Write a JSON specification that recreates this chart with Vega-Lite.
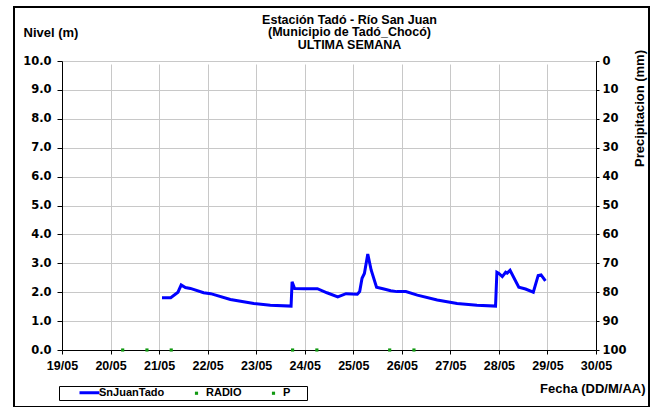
{
  "$schema": "https://vega.github.io/schema/vega-lite/v6.json",
  "width": 635,
  "height": 400,
  "autosize": {"type": "none"},
  "padding": {"left": 14, "top": 7, "right": 4, "bottom": 0},
  "background": "white",
  "datasets": {
    "nivel": [
      {"fecha": "2021-05-21T01:26", "nivel": 1.81},
      {"fecha": "2021-05-21T05:45", "nivel": 1.81},
      {"fecha": "2021-05-21T09:20", "nivel": 2.00},
      {"fecha": "2021-05-21T10:55", "nivel": 2.25},
      {"fecha": "2021-05-21T13:00", "nivel": 2.16},
      {"fecha": "2021-05-21T15:30", "nivel": 2.13},
      {"fecha": "2021-05-21T22:00", "nivel": 1.98},
      {"fecha": "2021-05-22T01:30", "nivel": 1.95},
      {"fecha": "2021-05-22T11:15", "nivel": 1.75},
      {"fecha": "2021-05-22T22:50", "nivel": 1.61},
      {"fecha": "2021-05-23T07:00", "nivel": 1.55},
      {"fecha": "2021-05-23T17:15", "nivel": 1.52},
      {"fecha": "2021-05-23T17:45", "nivel": 2.36},
      {"fecha": "2021-05-23T19:00", "nivel": 2.13},
      {"fecha": "2021-05-23T23:30", "nivel": 2.12},
      {"fecha": "2021-05-24T06:15", "nivel": 2.12},
      {"fecha": "2021-05-24T11:00", "nivel": 1.98},
      {"fecha": "2021-05-24T16:20", "nivel": 1.84},
      {"fecha": "2021-05-24T20:25", "nivel": 1.95},
      {"fecha": "2021-05-25T02:00", "nivel": 1.93},
      {"fecha": "2021-05-25T03:10", "nivel": 2.02},
      {"fecha": "2021-05-25T04:20", "nivel": 2.48},
      {"fecha": "2021-05-25T05:30", "nivel": 2.65},
      {"fecha": "2021-05-25T07:10", "nivel": 3.32},
      {"fecha": "2021-05-25T08:50", "nivel": 2.77},
      {"fecha": "2021-05-25T11:30", "nivel": 2.17},
      {"fecha": "2021-05-25T15:10", "nivel": 2.11},
      {"fecha": "2021-05-25T18:30", "nivel": 2.05},
      {"fecha": "2021-05-25T21:35", "nivel": 2.02},
      {"fecha": "2021-05-26T02:00", "nivel": 2.02},
      {"fecha": "2021-05-26T07:40", "nivel": 1.90},
      {"fecha": "2021-05-26T17:30", "nivel": 1.73},
      {"fecha": "2021-05-27T03:20", "nivel": 1.61},
      {"fecha": "2021-05-27T13:10", "nivel": 1.55},
      {"fecha": "2021-05-27T22:20", "nivel": 1.52},
      {"fecha": "2021-05-27T23:00", "nivel": 2.69},
      {"fecha": "2021-05-28T00:00", "nivel": 2.65},
      {"fecha": "2021-05-28T01:40", "nivel": 2.54},
      {"fecha": "2021-05-28T03:20", "nivel": 2.69},
      {"fecha": "2021-05-28T04:05", "nivel": 2.66},
      {"fecha": "2021-05-28T05:30", "nivel": 2.76},
      {"fecha": "2021-05-28T09:50", "nivel": 2.17},
      {"fecha": "2021-05-28T13:10", "nivel": 2.11},
      {"fecha": "2021-05-28T17:00", "nivel": 2.00},
      {"fecha": "2021-05-28T19:25", "nivel": 2.58},
      {"fecha": "2021-05-28T20:50", "nivel": 2.60},
      {"fecha": "2021-05-28T23:00", "nivel": 2.39}
    ],
    "puntos": [
      {"fecha": "2021-05-20T06:00", "valor": 0, "serie": "RADIO"},
      {"fecha": "2021-05-20T18:00", "valor": 0, "serie": "P"},
      {"fecha": "2021-05-21T06:00", "valor": 0, "serie": "RADIO"},
      {"fecha": "2021-05-23T18:00", "valor": 0, "serie": "P"},
      {"fecha": "2021-05-24T06:00", "valor": 0, "serie": "RADIO"},
      {"fecha": "2021-05-25T18:00", "valor": 0, "serie": "P"},
      {"fecha": "2021-05-26T06:00", "valor": 0, "serie": "RADIO"}
    ]
  },
  "title": {
    "text": ["Estación Tadó - Río San Juan", "(Municipio de Tadó_Chocó)", "ULTIMA SEMANA"],
    "anchor": "middle",
    "frame": "group",
    "orient": "top",
    "offset": -44,
    "dx": 18,
    "font": "Liberation Sans",
    "fontSize": 12.5,
    "fontWeight": "bold",
    "lineHeight": 12.5,
    "color": "black"
  },
  "config": {
    "view": {"stroke": "black", "strokeWidth": 2},
    "font": "Liberation Sans",
    "axis": {
      "labelFont": "Liberation Sans",
      "labelFontWeight": "bold",
      "labelFontSize": 12,
      "labelColor": "black",
      "titleFont": "Liberation Sans",
      "titleFontWeight": "bold",
      "titleFontSize": 13,
      "titleColor": "black",
      "domainColor": "black",
      "domainWidth": 1,
      "tickColor": "black",
      "gridColor": "#c8c8c8",
      "gridWidth": 1
    }
  },
  "layer": [
    {
      "layer": [
        {
          "data": {"name": "nivel"},
          "mark": {"type": "line", "strokeWidth": 3, "interpolate": "linear"},
          "encoding": {
            "x": {
              "field": "fecha",
              "type": "temporal",
              "scale": {
                "domain": [{"year": 2021, "month": 5, "date": 19}, {"year": 2021, "month": 5, "date": 30}],
                "range": [48, 582],
                "nice": false
              },
              "axis": {
                "format": "%d/%m",
                "tickCount": {"interval": "day", "step": 1},
                "title": "Fecha (DD/M/AA)",
                "titleX": 631,
                "titleY": 38,
                "titleAlign": "right",
                "titleBaseline": "middle",
                "offset": -57,
                "grid": true,
                "tickSize": 4,
                "labelPadding": 5,
                "labelFontSize": 12.5,
                "labelFlush": false,
                "labelOverlap": false
              }
            },
            "y": {
              "field": "nivel",
              "type": "quantitative",
              "scale": {"domain": [0, 10], "range": [343, 54], "nice": false, "zero": false},
              "axis": {
                "title": "Nivel (m)",
                "titleAngle": 0,
                "titleX": -39,
                "titleY": 25,
                "titleAlign": "left",
                "titleBaseline": "middle",
                "format": ".1f",
                "values": [0, 1, 2, 3, 4, 5, 6, 7, 8, 9, 10],
                "labelOverlap": false,
                "labelFont": "DejaVu Sans",
                "labelFontSize": 11.5,
                "offset": -48,
                "grid": true,
                "tickSize": 5,
                "labelPadding": 6
              }
            },
            "color": {
              "datum": "SnJuanTado",
              "type": "nominal",
              "scale": {"domain": ["SnJuanTado", "RADIO", "P"], "range": ["#0000ff", "#119911", "#119911"]},
              "legend": {
                "orient": "none",
                "legendX": 45,
                "legendY": 379,
                "direction": "horizontal",
                "title": "\u00a0",
                "titleOrient": "left",
                "titlePadding": 24,
                "padding": 1,
                "strokeColor": "black",
                "fillColor": "white",
                "labelFont": "Liberation Sans",
                "labelFontWeight": "bold",
                "labelFontSize": 11,
                "labelColor": "black",
                "labelOffset": 4,
                "symbolSize": 144,
                "symbolStrokeWidth": 0,
                "columnPadding": 26,
                "labelExpr": "datum.label == 'P' ? 'P\u00a0\u00a0\u00a0\u00a0\u00a0\u200b' : datum.label",
                "encode": {
                  "symbols": {
                    "update": {
                      "shape": {"signal": "datum.value == 'SnJuanTado' ? 'stroke' : 'square'"},
                      "size": {"signal": "datum.value == 'SnJuanTado' ? 400 : 10"},
                      "strokeWidth": {"signal": "datum.value == 'SnJuanTado' ? 3 : 0"},
                      "stroke": {"signal": "datum.value == 'SnJuanTado' ? '#0000ff' : 'transparent'"},
                      "fill": {"signal": "datum.value == 'SnJuanTado' ? 'transparent' : '#119911'"}
                    }
                  }
                }
              }
            }
          }
        },
        {
          "data": {"name": "puntos"},
          "mark": {"type": "point", "shape": "square", "filled": true, "size": 10, "opacity": 1},
          "encoding": {
            "x": {"field": "fecha", "type": "temporal"},
            "y": {
              "field": "valor",
              "type": "quantitative",
              "axis": {
                "title": "Nivel (m)",
                "titleAngle": 0,
                "titleX": -39,
                "titleY": 25,
                "titleAlign": "left",
                "titleBaseline": "middle",
                "format": ".1f",
                "values": [0, 1, 2, 3, 4, 5, 6, 7, 8, 9, 10],
                "labelOverlap": false,
                "labelFont": "DejaVu Sans",
                "labelFontSize": 11.5,
                "offset": -48,
                "grid": true,
                "tickSize": 5,
                "labelPadding": 6
              }
            },
            "color": {"field": "serie", "type": "nominal"}
          }
        }
      ]
    },
    {
      "data": {"name": "puntos"},
      "mark": {"type": "point", "opacity": 0},
      "encoding": {
        "x": {"field": "fecha", "type": "temporal"},
        "y": {
          "field": "valor",
          "type": "quantitative",
          "scale": {"domain": [0, 100], "range": [54, 343], "nice": false, "zero": false},
          "axis": {
            "orient": "right",
            "title": "Precipitacion (mm)",
            "titleAngle": 270,
            "titleX": 43,
            "titleY": 101,
            "titleAlign": "center",
            "titleBaseline": "middle",
            "values": [0, 10, 20, 30, 40, 50, 60, 70, 80, 90, 100],
            "labelOverlap": false,
            "labelFont": "DejaVu Sans",
            "labelFontSize": 11.5,
            "format": "d",
            "offset": -53,
            "grid": false,
            "tickSize": 3,
            "labelPadding": 3,
            "labelAlign": "left"
          }
        }
      }
    }
  ],
  "resolve": {"scale": {"y": "independent"}, "axis": {"y": "independent"}}
}
